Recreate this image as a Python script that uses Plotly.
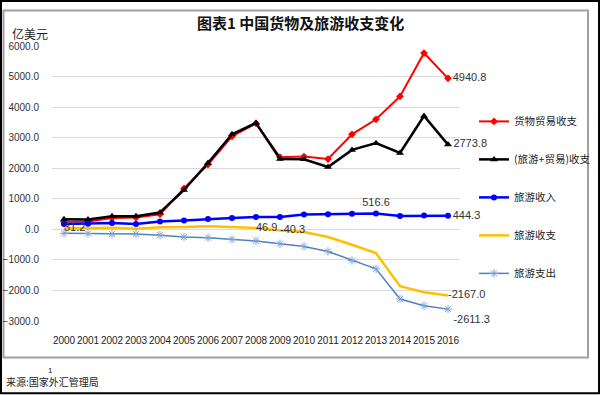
import plotly.graph_objects as go

years = [str(y) for y in range(2000, 2017)]
trade_balance = [250, 255, 370, 385, 495, 1340, 2120, 3040, 3470, 2360, 2380, 2300, 3110, 3600, 4350, 5770, 4940.8]
combined_balance = [330, 320, 427, 427, 550, 1290, 2170, 3110, 3480, 2300, 2290, 2040, 2600, 2820, 2500, 3710, 2773.8]
tourism_income = [175, 185, 210, 178, 257, 293, 339, 372, 405, 405, 483, 493, 510, 516.6, 440, 450, 444.3]
tourism_balance = [31.2, 39, 50, 22, 66, 76, 99, 76, 46.9, -40.3, -88, -252, -503, -780, -1860, -2060, -2167.0]
tourism_expense = [-131, -139, -154, -152, -191, -252, -273, -329, -384, -470, -559, -723, -1020, -1293, -2280, -2500, -2611.3]

W, H = 600, 395
L, R, T, B = 52, 460, 46, 321.5


def px(x):
    return (x - L) / (R - L)


def py(y):
    return (B - y) / (B - T)


def labels(n, idx_fmt):
    return [idx_fmt.get(i, "") for i in range(n)]


n = len(years)
fig = go.Figure()

label_font = dict(family="Liberation Sans, Arial", size=11, color="#333333")

fig.add_trace(go.Scatter(
    x=years, y=trade_balance, name="货物贸易收支", legendgroup="a",
    mode="lines+markers+text", cliponaxis=False,
    line=dict(color="#ff0000", width=2),
    marker=dict(symbol="diamond", size=6, color="#ff0000"),
    text=labels(n, {16: "4940.8"}), textposition="middle right",
    textfont=label_font,
))
fig.add_trace(go.Scatter(
    x=years, y=combined_balance, name="(旅游+贸易)收支", legendgroup="b",
    mode="lines+markers+text", cliponaxis=False,
    line=dict(color="#000000", width=2.5),
    marker=dict(symbol="triangle-up", size=7, color="#000000"),
    text=labels(n, {16: "2773.8"}), textposition="middle right",
    textfont=label_font,
))
fig.add_trace(go.Scatter(
    x=years, y=tourism_income, name="旅游收入", legendgroup="c",
    mode="lines+markers+text", cliponaxis=False,
    line=dict(color="#0000ff", width=2.5),
    marker=dict(symbol="circle", size=6, color="#0000ff"),
    text=labels(n, {13: "516.6", 16: "444.3"}),
    textposition=["top center" if i == 13 else "middle right" for i in range(n)],
    textfont=label_font,
))
fig.add_trace(go.Scatter(
    x=years, y=tourism_balance, name="旅游收支", legendgroup="d",
    mode="lines+text", cliponaxis=False,
    line=dict(color="#ffc000", width=2.5),
    text=labels(n, {0: "31.2", 8: "46.9", 9: "-40.3", 16: "-2167.0"}),
    textposition="middle right",
    textfont=label_font,
))
fig.add_trace(go.Scatter(
    x=years, y=tourism_expense, name="旅游支出", legendgroup="e",
    mode="lines+markers+text", cliponaxis=False,
    line=dict(color="#4f81bd", width=1.5),
    marker=dict(symbol="asterisk-open", size=7, color="#7ba3da", line=dict(width=1, color="#7ba3da")),
    text=labels(n, {16: "-2611.3"}), textposition="bottom right",
    textfont=label_font,
))

fig.update_layout(
    width=W, height=H,
    margin=dict(l=L, r=W - R, t=T, b=H - B, autoexpand=False),
    paper_bgcolor="white", plot_bgcolor="white",
    showlegend=True,
    legend=dict(
        x=px(474), y=py(107), xanchor="left", yanchor="top",
        font=dict(family="Noto Sans CJK SC", size=10.5, color="#222222"),
        tracegroupgap=19, bgcolor="rgba(0,0,0,0)",
    ),
    xaxis=dict(
        type="category", showgrid=False, zeroline=False, showline=False,
        ticks="outside", ticklen=10, tickcolor="rgba(0,0,0,0)", tickangle=0, automargin=False,
        tickfont=dict(family="Liberation Sans, Arial", size=10, color="#222222"),
        range=[-0.5, 16.5],
    ),
    yaxis=dict(
        range=[-3000, 6000], dtick=1000, tickformat=".1f", automargin=False,
        showgrid=True, gridcolor="#d9d9d9", gridwidth=1,
        zeroline=True, zerolinecolor="#d9d9d9", zerolinewidth=1,
        showline=False, ticks="outside", ticklen=10, tickcolor="rgba(0,0,0,0)",
        tickfont=dict(family="Liberation Sans, Arial", size=10, color="#333333"),
    ),
    font=dict(family="Noto Sans CJK SC"),
)

fig.add_annotation(text="<b>图表1 中国货物及旅游收支变化</b>", xref="paper", yref="paper",
                   x=px(300), y=py(22), xanchor="center", yanchor="middle", showarrow=False,
                   font=dict(family="Noto Sans CJK SC", size=15, color="#111111"))
fig.add_annotation(text="亿美元", xref="paper", yref="paper",
                   x=px(30), y=py(33), xanchor="center", yanchor="middle", showarrow=False,
                   font=dict(family="Noto Sans CJK SC", size=12, color="#222222"))
fig.add_annotation(text="来源:国家外汇管理局", xref="paper", yref="paper",
                   x=px(4), y=py(382), xanchor="left", yanchor="middle", showarrow=False,
                   font=dict(family="Noto Sans CJK SC", size=10, color="#222222"))
fig.add_annotation(text="1", xref="paper", yref="paper",
                   x=px(50), y=py(371), xanchor="center", yanchor="middle", showarrow=False,
                   font=dict(family="Liberation Sans", size=8, color="#222222"))

fig.add_shape(type="rect", xref="paper", yref="paper",
              x0=px(1), y0=py(1), x1=px(599), y1=py(394),
              line=dict(color="#000000", width=2), layer="below")
fig.add_shape(type="rect", xref="paper", yref="paper",
              x0=px(3.5), y0=py(10.5), x1=px(588), y1=py(358),
              line=dict(color="#a0a0a0", width=2), layer="below")

fig.write_html("out.html", config={"displayModeBar": False},
               post_script="document.body.style.margin='0';document.body.style.overflow='hidden';")
